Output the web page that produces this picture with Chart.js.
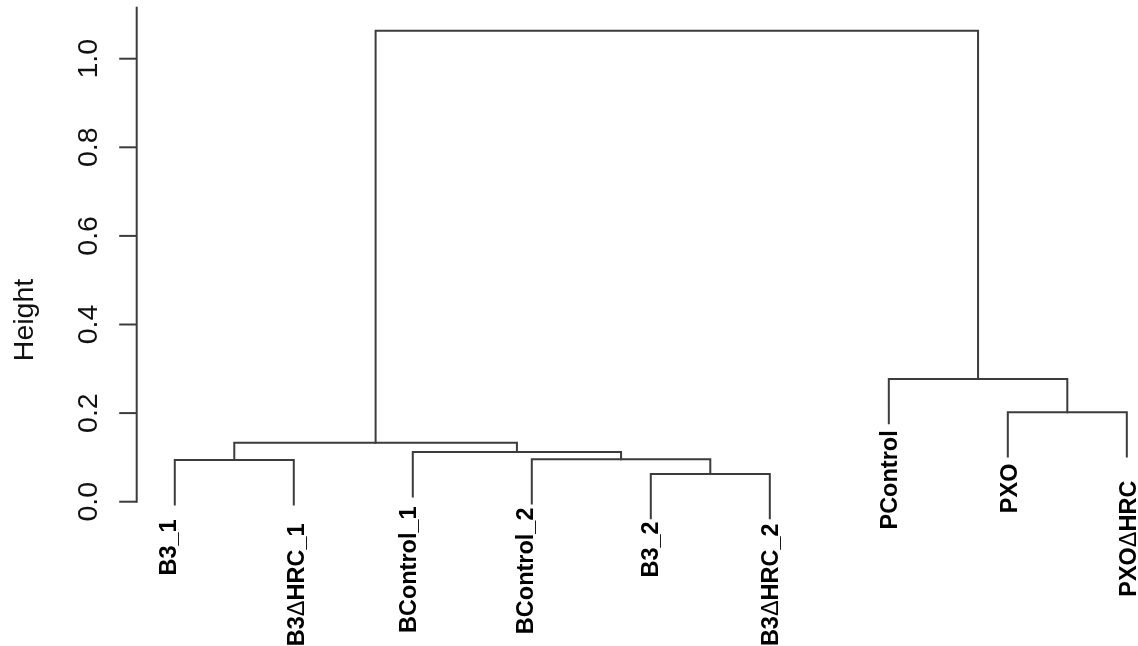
<!DOCTYPE html>
<html>
<head>
<meta charset="utf-8">
<title>Cluster Dendrogram</title>
<script src="https://cdn.jsdelivr.net/npm/chart.js@4/dist/chart.umd.min.js"></script>
<style>
  html, body { margin: 0; padding: 0; background: #fff; }
  canvas { display: block; }
</style>
</head>
<body>
<canvas id="c" width="1138" height="646"></canvas>
<script>
// Leaves, left to right in dendrogram order
const leafLabels = ['B3_1', 'B3\u0394HRC_1', 'BControl_1', 'BControl_2', 'B3_2', 'B3\u0394HRC_2', 'PControl', 'PXO', 'PXO\u0394HRC'];

// hclust-style merge table: negative = leaf index (1-based), positive = earlier merge step
const mergeLeft  = [-5, -1, -4, -3, 2, -8, -7, 5];
const mergeRight = [-6, -2,  1,  3, 4, -9,  6, 7];
const mergeHeight = [0.0625, 0.094, 0.096, 0.112, 0.133, 0.202, 0.277, 1.063];

// Y axis ticks
const yTickValues = [0, 0.2, 0.4, 0.6, 0.8, 1.0];
const yTickLabels = ['0.0', '0.2', '0.4', '0.6', '0.8', '1.0'];
const yAxisTitle = 'Height';

// Label placement tweaks (pixels): gap below the leaf tip, baseline shift right of the leaf
const labelGap   = [15, 19, 10, 4, 3, 5, 7, 7, 24];
const labelShift = [1, 10, 3, 1, 7, 8, 8, 9, 9];

const LINE = '#3c3c3c';
const BOLD_FONT = 'bold 23.5px "Liberation Sans", Arial, sans-serif';
const DELTA_FONT = '23.5px "Liberation Sans", Arial, sans-serif';
const hang = 0.1 * (Math.max(...mergeHeight) - Math.min(...mergeHeight));

// Horizontal position of every merge node (midpoint of its two children)
const nodeX = [];
function childX(ref) { return ref < 0 ? -ref : nodeX[ref - 1]; }
function childY(ref, h) { return ref < 0 ? h - hang : mergeHeight[ref - 1]; }
mergeHeight.forEach((h, i) => {
  nodeX[i] = (childX(mergeLeft[i]) + childX(mergeRight[i])) / 2;
});

// One bracket per merge
const datasets = mergeHeight.map((h, i) => {
  const l = mergeLeft[i], r = mergeRight[i];
  return {
    data: [
      { x: childX(l), y: childY(l, h) },
      { x: childX(l), y: h },
      { x: childX(r), y: h },
      { x: childX(r), y: childY(r, h) }
    ],
    showLine: true,
    borderColor: LINE,
    borderWidth: 2,
    pointRadius: 0,
    tension: 0,
    clip: false
  };
});

// Leaf tip height for each leaf
const leafTip = new Array(leafLabels.length).fill(0);
mergeHeight.forEach((h, i) => {
  [mergeLeft[i], mergeRight[i]].forEach(ref => { if (ref < 0) leafTip[-ref - 1] = h - hang; });
});

// Draws a label ending at x=0: bold text, with the delta sign in the regular weight
function drawLeafLabel(ctx, text) {
  const parts = text.split(/(\u0394)/).filter(s => s.length);
  const widths = parts.map(p => {
    ctx.font = p === '\u0394' ? DELTA_FONT : BOLD_FONT;
    return ctx.measureText(p).width;
  });
  let cx = -widths.reduce((a, b) => a + b, 0);
  ctx.textAlign = 'left';
  parts.forEach((p, k) => {
    ctx.font = p === '\u0394' ? DELTA_FONT : BOLD_FONT;
    ctx.fillText(p, cx, 0);
    cx += widths[k];
  });
}

const dendroDecor = {
  id: 'dendroDecor',
  afterDraw(chart) {
    const { ctx, chartArea, scales: { x, y } } = chart;
    const left = chartArea.left;
    ctx.save();

    // axis line
    ctx.strokeStyle = LINE;
    ctx.lineWidth = 2;
    ctx.beginPath();
    ctx.moveTo(left, y.getPixelForValue(0) + 1);
    ctx.lineTo(left, y.getPixelForValue(1.117));
    ctx.stroke();

    // tick marks and rotated tick labels
    ctx.fillStyle = '#111';
    ctx.font = '28.5px "Liberation Sans", Arial, sans-serif';
    ctx.textAlign = 'center';
    ctx.textBaseline = 'alphabetic';
    yTickValues.forEach((v, i) => {
      const py = y.getPixelForValue(v);
      ctx.beginPath();
      ctx.moveTo(left - 17.5, py);
      ctx.lineTo(left, py);
      ctx.stroke();
      ctx.save();
      ctx.translate(97, py);
      ctx.rotate(-Math.PI / 2);
      ctx.fillText(yTickLabels[i], 0, 0);
      ctx.restore();
    });

    // axis title
    ctx.save();
    ctx.translate(32.5, 320);
    ctx.rotate(-Math.PI / 2);
    ctx.fillText(yAxisTitle, 0, 0);
    ctx.restore();

    // leaf labels, reading upward, ending just below each leaf tip
    ctx.fillStyle = '#000';
    leafLabels.forEach((lab, i) => {
      const px = x.getPixelForValue(i + 1);
      const py = y.getPixelForValue(leafTip[i]);
      ctx.save();
      ctx.translate(px + labelShift[i], py + labelGap[i]);
      ctx.rotate(-Math.PI / 2);
      drawLeafLabel(ctx, lab);
      ctx.restore();
    });

    ctx.restore();
  }
};

new Chart(document.getElementById('c'), {
  type: 'scatter',
  data: { datasets },
  options: {
    responsive: false,
    animation: false,
    events: [],
    layout: { padding: { top: 5.54, bottom: 108.86, left: 136.7, right: 0 } },
    plugins: { legend: { display: false }, tooltip: { enabled: false } },
    elements: { line: { borderCapStyle: 'square', borderJoinStyle: 'miter' } },
    scales: {
      x: { type: 'linear', min: 0.68, max: 9.094, display: false },
      y: { type: 'linear', min: -0.08, max: 1.12, display: false }
    }
  },
  plugins: [dendroDecor]
});
</script>
</body>
</html>
